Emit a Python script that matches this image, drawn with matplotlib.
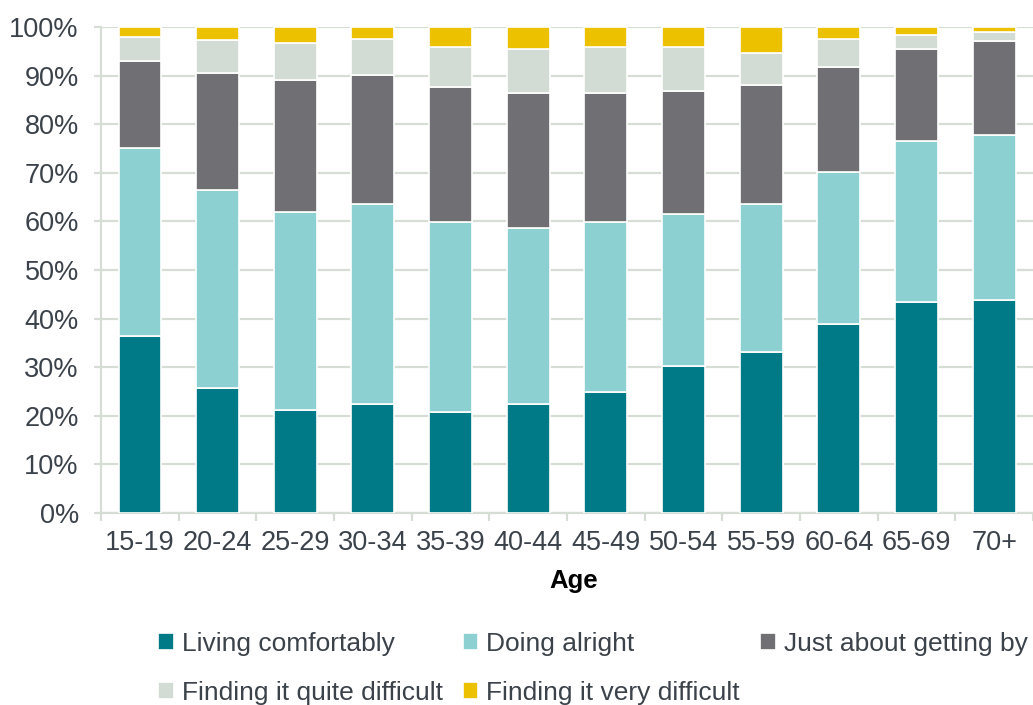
import numpy as np
import matplotlib
matplotlib.use("Agg")
import matplotlib.pyplot as plt
from matplotlib.ticker import PercentFormatter

plt.rcParams['font.family'] = ['Liberation Sans', 'DejaVu Sans']

ages = ["15-19", "20-24", "25-29", "30-34", "35-39", "40-44",
        "45-49", "50-54", "55-59", "60-64", "65-69", "70+"]

living = [36.4, 25.8, 21.2, 22.4, 20.8, 22.4, 24.9, 30.2, 33.1, 38.9, 43.4, 43.8]
alright = [38.7, 40.7, 40.7, 41.2, 39.1, 36.2, 35.0, 31.3, 30.5, 31.3, 33.2, 34.0]
getting_by = [17.9, 24.1, 27.1, 26.6, 27.8, 27.9, 26.6, 25.4, 24.5, 21.6, 18.9, 19.4]
quite_diff = [5.0, 6.7, 7.8, 7.4, 8.2, 9.0, 9.4, 9.0, 6.6, 5.8, 2.8, 1.8]
very_diff = [2.0, 2.7, 3.2, 2.4, 4.1, 4.5, 4.1, 4.1, 5.3, 2.4, 1.7, 1.0]

series = [
    ("Living comfortably", living, "#007a87"),
    ("Doing alright", alright, "#8dd0d2"),
    ("Just about getting by", getting_by, "#707074"),
    ("Finding it quite difficult", quite_diff, "#d3dcd4"),
    ("Finding it very difficult", very_diff, "#ecc100"),
]

grid_col = "#d5ddd5"
text_col = "#3b4249"

fig = plt.figure(figsize=(10.33, 7.05), dpi=100)
ax = fig.add_axes([0.0978, 0.2723, 0.9022, 0.6894])

x = np.arange(len(ages))
bottom = np.zeros(len(ages))
handles = []
for name, vals, col in series:
    b = ax.bar(x, vals, 0.55, bottom=bottom, color=col, edgecolor="white",
               linewidth=1.2, label=name, zorder=3)
    handles.append(b)
    bottom += np.array(vals)

ax.set_xlim(-0.5, len(ages) - 0.5)
ax.set_ylim(0, 100)
ax.set_yticks(np.arange(0, 101, 10))
ax.yaxis.set_major_formatter(PercentFormatter(decimals=0))
ax.grid(axis="y", color=grid_col, linewidth=1.6, zorder=0)

ax.set_xticks(x)
ax.set_xticklabels(ages)
ax.set_xticks(np.arange(-0.5, len(ages), 1), minor=True)
ax.tick_params(axis="x", which="major", length=0, pad=12, labelsize=19.5, labelcolor=text_col)
ax.tick_params(axis="x", which="minor", length=6, width=1.6, color=grid_col)
ax.tick_params(axis="y", length=5, width=1.6, color=grid_col, labelsize=19.5,
               labelcolor=text_col, pad=11)

for s in ["top", "right"]:
    ax.spines[s].set_visible(False)
ax.spines["left"].set_color(grid_col)
ax.spines["left"].set_linewidth(1.6)
ax.spines["bottom"].set_color(grid_col)
ax.spines["bottom"].set_linewidth(1.6)

ax.set_xlabel("Age", fontsize=18.5, fontweight="bold", color="black", labelpad=8)
ax.xaxis.set_label_coords(0.507, -0.115)

order = [0, 3, 1, 4, 2]
fig.legend([handles[i] for i in order], [series[i][0] for i in order],
           loc="upper left", bbox_to_anchor=(0.153, 0.104), ncol=3, frameon=False,
           fontsize=19, handlelength=0.6, handleheight=0.6, handletextpad=0.3,
           columnspacing=0.75, labelspacing=0.95, borderaxespad=0, borderpad=0,
           labelcolor=text_col)

fig.savefig("out.png", dpi=100)
